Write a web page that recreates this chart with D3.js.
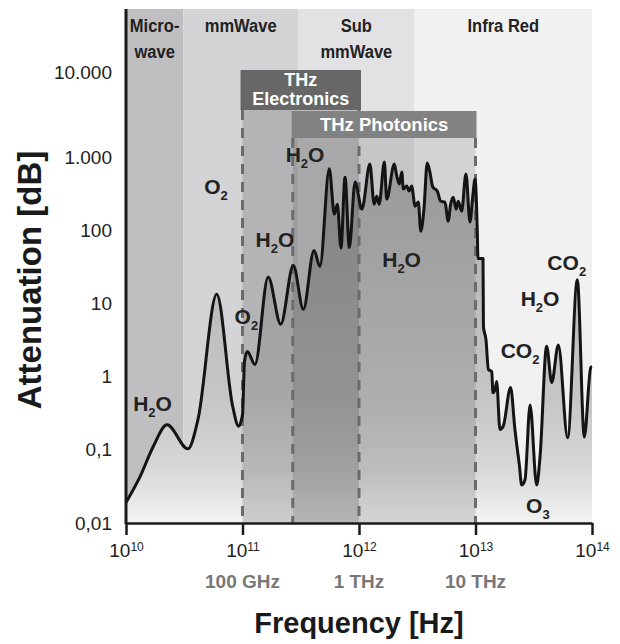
<!DOCTYPE html>
<html lang="en">
	<head>
		<meta charset="utf-8">
		<title>THz gap attenuation</title>
		<script type="text/javascript" src="https://cdn.jsdelivr.net/npm/d3@7/dist/d3.min.js"></script>
		<style>
			body { margin: 0; background: #fff; }
			text { font-family: "Liberation Sans", Arial, Helvetica, sans-serif; }
			.band-label { font-weight: bold; font-size: 19px; fill: #222; }
			.mol { font-weight: bold; font-size: 21px; fill: #222; }
		</style>
	</head>
	<body>
		<script type="text/javascript">

			// ---- data ----
			var xTicks = [1e10, 1e11, 1e12, 1e13, 1e14];
			var yTicks = [0.01, 0.1, 1, 10, 100, 1000, 10000];
			var yTickLabels = ["0,01", "0,1", "1", "10", "100", "1.000", "10.000"];

			var freqNames = ["100 GHz", "1 THz", "10 THz"];
			var freqNameValues = [1e11, 1e12, 1e13];

			var bandNames = [["Micro-", "wave"], ["mmWave"], ["Sub", "mmWave"], ["Infra Red"]];
			var bandEdges = [1e10, 3.1e10, 3e11, 3e12, 1e14];

			var electronicsRange = [1e11, 1e12];
			var photonicsRange = [2.7e11, 1e13];

			// [frequency Hz, attenuation dB]
			var spectrum = [
				[1.00e10, 0.019], [1.32e10, 0.043], [1.71e10, 0.11], [2.25e10, 0.22], [3.40e10, 0.103],
				[4.15e10, 0.26], [6.01e10, 13.3], [8.24e10, 0.39], [9.25e10, 0.21], [1.00e11, 0.30],
				[1.04e11, 1.6], [1.10e11, 2.2], [1.28e11, 1.46], [1.66e11, 23], [2.13e11, 5.2],
				[2.73e11, 33], [3.33e11, 8.3], [4.11e11, 53], [4.62e11, 32], [5.56e11, 690],
				[6.14e11, 166], [6.52e11, 227], [7.00e11, 57], [7.59e11, 530], [8.26e11, 58],
				[9.25e11, 455], [1.06e12, 194], [1.24e12, 800], [1.35e12, 227], [1.42e12, 292],
				[1.49e12, 227], [1.65e12, 855], [1.73e12, 266], [2.01e12, 800], [2.11e12, 550],
				[2.22e12, 427], [2.33e12, 624], [2.40e12, 365], [2.57e12, 401], [2.69e12, 342],
				[2.83e12, 401], [3.03e12, 213], [3.23e12, 242], [3.39e12, 97], [3.61e12, 194],
				[3.85e12, 828], [4.06e12, 624], [4.30e12, 388], [4.70e12, 342], [5.02e12, 249],
				[5.47e12, 242], [5.83e12, 133], [6.12e12, 227], [6.44e12, 283], [6.81e12, 194],
				[7.11e12, 249], [7.60e12, 182], [8.28e12, 585], [8.97e12, 129], [9.46e12, 283],
				[9.91e12, 500], [1.035e13, 103], [1.05e13, 41], [1.16e13, 41], [1.17e13, 4.8],
				[1.23e13, 3.2], [1.29e13, 1.25], [1.38e13, 1.17], [1.41e13, 0.60], [1.47e13, 0.66],
				[1.52e13, 0.86], [1.62e13, 0.19], [1.73e13, 0.21], [2.00e13, 0.71], [2.18e13, 0.19],
				[2.26e13, 0.117], [2.38e13, 0.062], [2.49e13, 0.033], [2.66e13, 0.039], [2.94e13, 0.41],
				[3.35e13, 0.033], [3.58e13, 0.080], [4.08e13, 2.6], [4.51e13, 0.83], [5.14e13, 2.7],
				[6.18e13, 0.146], [7.48e13, 21], [8.59e13, 0.15], [9.75e13, 1.33], [1.00e14, 1.37]
			];

			// absorbing molecules: name, frequency, attenuation (label baseline)
			var molecules = [
				["H2O", 1.69e10, 0.34], ["O2", 5.93e10, 311], ["O2", 1.08e11, 5.15],
				["H2O", 1.90e11, 58.5], ["H2O", 3.44e11, 855], ["H2O", 2.32e12, 31],
				["CO2", 6.07e13, 28.3], ["H2O", 3.58e13, 9.2], ["CO2", 2.41e13, 1.77],
				["O3", 3.43e13, 0.0136]
			];

			// ---- layout ----
			var w = 620;
			var h = 644;
			var plotLeft = 126, plotRight = 592, plotTop = 9, plotBottom = 523;
			var electronicsTop = 70, electronicsBottom = 110;
			var photonicsBottom = 138;
			var bandColors = ["#bfbfc1", "#d4d4d6", "#e2e2e4", "#f1f1f2"];

			var xScale = d3.scaleLog().domain([1e10, 1e14]).range([plotLeft, plotRight]);
			var yScale = d3.scaleLog().domain([0.01, 1000, 10000]).range([plotBottom, 157, 72]);

			var svg = d3.select("body")
						.append("svg")
						.attr("width", w)
						.attr("height", h);

			var defs = svg.append("defs");
			var grad = defs.append("linearGradient")
						.attr("id", "under")
						.attr("gradientUnits", "userSpaceOnUse")
						.attr("x1", 0).attr("x2", 0)
						.attr("y1", 150).attr("y2", plotBottom);
			[[0, "#aeaeae"], [0.4, "#bdbdbd"], [0.67, "#c6c6c6"], [0.85, "#d7d7d7"], [1, "#f3f3f3"]].forEach(function(s) {
				grad.append("stop").attr("offset", s[0]).attr("stop-color", s[1]);
			});

			//Bands
			svg.selectAll("rect.band")
				.data(bandNames)
				.enter()
				.append("rect")
				.attr("class", "band")
				.attr("x", function(d, i) { return xScale(bandEdges[i]); })
				.attr("width", function(d, i) { return xScale(bandEdges[i + 1]) - xScale(bandEdges[i]); })
				.attr("y", plotTop)
				.attr("height", plotBottom - plotTop)
				.attr("fill", function(d, i) { return bandColors[i]; });

			//Area under curve
			var area = d3.area()
						.curve(d3.curveMonotoneX)
						.x(function(d) { return xScale(d[0]); })
						.y0(plotBottom)
						.y1(function(d) { return yScale(d[1]); });
			svg.append("path").datum(spectrum).attr("d", area).attr("fill", "url(#under)");

			//THz regions
			svg.append("rect")
				.attr("x", xScale(electronicsRange[0]))
				.attr("width", xScale(electronicsRange[1]) - xScale(electronicsRange[0]))
				.attr("y", electronicsBottom)
				.attr("height", plotBottom - electronicsBottom)
				.attr("fill", "#000").attr("fill-opacity", 0.15);
			svg.append("rect")
				.attr("x", xScale(photonicsRange[0]))
				.attr("width", xScale(photonicsRange[1]) - xScale(photonicsRange[0]))
				.attr("y", photonicsBottom)
				.attr("height", plotBottom - photonicsBottom)
				.attr("fill", "#000").attr("fill-opacity", 0.12);

			//Dashed edges
			var edges = [[electronicsRange[0], electronicsBottom], [electronicsRange[1], electronicsBottom],
						 [photonicsRange[0], photonicsBottom], [photonicsRange[1], photonicsBottom]];
			svg.selectAll("line.edge")
				.data(edges)
				.enter()
				.append("line")
				.attr("x1", function(d) { return xScale(d[0]); })
				.attr("x2", function(d) { return xScale(d[0]); })
				.attr("y1", function(d) { return d[1]; })
				.attr("y2", plotBottom)
				.attr("stroke", "#6b6b6b")
				.attr("stroke-width", 3)
				.attr("stroke-dasharray", "10,8");

			//Header boxes
			svg.append("rect")
				.attr("x", xScale(electronicsRange[0]) - 2)
				.attr("width", xScale(electronicsRange[1]) - xScale(electronicsRange[0]) + 4)
				.attr("y", electronicsTop)
				.attr("height", electronicsBottom - electronicsTop)
				.attr("fill", "#676767");
			svg.append("rect")
				.attr("x", xScale(photonicsRange[0]) - 1)
				.attr("width", xScale(photonicsRange[1]) - xScale(photonicsRange[0]) + 2)
				.attr("y", electronicsBottom + 1)
				.attr("height", photonicsBottom - electronicsBottom - 1)
				.attr("fill", "#828282");

			var ecx = (xScale(electronicsRange[0]) + xScale(electronicsRange[1])) / 2;
			var pcx = (xScale(photonicsRange[0]) + xScale(photonicsRange[1])) / 2;
			svg.append("text").text("THz").attr("x", ecx).attr("y", 86)
				.attr("text-anchor", "middle").attr("fill", "#fff").attr("font-weight", "bold").attr("font-size", "18px");
			svg.append("text").text("Electronics").attr("x", ecx).attr("y", 105)
				.attr("text-anchor", "middle").attr("fill", "#fff").attr("font-weight", "bold").attr("font-size", "18px");
			svg.append("text").text("THz Photonics").attr("x", pcx).attr("y", 131)
				.attr("text-anchor", "middle").attr("fill", "#fff").attr("font-weight", "bold").attr("font-size", "18.5px");

			//Band labels (condensed look via horizontal squeeze)
			bandNames.forEach(function(lines, i) {
				var cx = (xScale(bandEdges[i]) + xScale(bandEdges[i + 1])) / 2;
				lines.forEach(function(s, j) {
					svg.append("text")
						.attr("class", "band-label")
						.attr("transform", "translate(" + cx + "," + (32 + j * 26) + ") scale(0.87,1)")
						.attr("text-anchor", "middle")
						.text(s);
				});
			});

			//Curve
			var line = d3.line()
						.curve(d3.curveMonotoneX)
						.x(function(d) { return xScale(d[0]); })
						.y(function(d) { return yScale(d[1]); });
			svg.append("path")
				.datum(spectrum)
				.attr("d", line)
				.attr("fill", "none")
				.attr("stroke", "#141414")
				.attr("stroke-width", 3)
				.attr("stroke-linejoin", "round");

			//Molecule labels
			molecules.forEach(function(m) {
				var t = svg.append("text")
							.attr("class", "mol")
							.attr("x", xScale(m[1]))
							.attr("y", yScale(m[2]))
							.attr("text-anchor", "middle");
				var sub = false;
				m[0].split("").forEach(function(c) {
					var isDigit = /[0-9]/.test(c);
					var ts = t.append("tspan").text(c);
					if (isDigit && !sub) { ts.attr("dy", 6).attr("font-size", "13px"); sub = true; }
					else if (!isDigit && sub) { ts.attr("dy", -6); sub = false; }
				});
			});

			//X axis
			var xAxis = svg.append("g")
						.attr("transform", "translate(0," + plotBottom + ")")
						.call(d3.axisBottom(xScale)
							.tickValues(xTicks)
							.tickSize(12)
							.tickSizeOuter(0)
							.tickPadding(9)
							.tickFormat(function() { return "10"; }));
			xAxis.select(".domain").attr("stroke", "#1a1a1a").attr("stroke-width", 2.5);
			xAxis.selectAll(".tick line").attr("stroke", "#1a1a1a").attr("stroke-width", 2.5);
			xAxis.selectAll(".tick text")
				.attr("font-family", "'Liberation Sans', Arial, sans-serif")
				.attr("font-size", "19px")
				.attr("fill", "#222")
				.each(function(d) {
					d3.select(this).append("tspan")
						.attr("dy", "-0.55em")
						.attr("font-size", "12px")
						.text(Math.round(Math.log10(d)));
				});

			//Frequency names under ticks
			svg.selectAll("text.fname")
				.data(freqNames)
				.enter()
				.append("text")
				.attr("class", "fname")
				.attr("x", function(d, i) { return xScale(freqNameValues[i]); })
				.attr("y", 588)
				.attr("text-anchor", "middle")
				.attr("font-weight", "bold")
				.attr("font-size", "19px")
				.attr("fill", "#777")
				.text(function(d) { return d; });

			//Y axis
			var yAxis = svg.append("g")
						.attr("transform", "translate(" + plotLeft + ",0)")
						.call(d3.axisLeft(yScale)
							.tickValues(yTicks)
							.tickSize(0)
							.tickPadding(14)
							.tickFormat(function(d, i) { return yTickLabels[i]; }));
			yAxis.select(".domain").remove();
			yAxis.selectAll(".tick text")
				.attr("font-family", "'Liberation Sans', Arial, sans-serif")
				.attr("font-size", "19px")
				.attr("fill", "#222");
			svg.append("line")
				.attr("x1", plotLeft).attr("x2", plotLeft)
				.attr("y1", plotTop).attr("y2", plotBottom + 1)
				.attr("stroke", "#1a1a1a")
				.attr("stroke-width", 3);

			//Axis titles
			svg.append("text")
				.text("Frequency [Hz]")
				.attr("x", (plotLeft + plotRight) / 2)
				.attr("y", 633)
				.attr("text-anchor", "middle")
				.attr("font-weight", "bold")
				.attr("font-size", "29px")
				.attr("fill", "#1a1a1a");
			svg.append("text")
				.text("Attenuation [dB]")
				.attr("transform", "translate(41," + 280 + ") rotate(-90)")
				.attr("text-anchor", "middle")
				.attr("font-weight", "bold")
				.attr("font-size", "33px")
				.attr("fill", "#1a1a1a");

		</script>
	</body>
</html>
